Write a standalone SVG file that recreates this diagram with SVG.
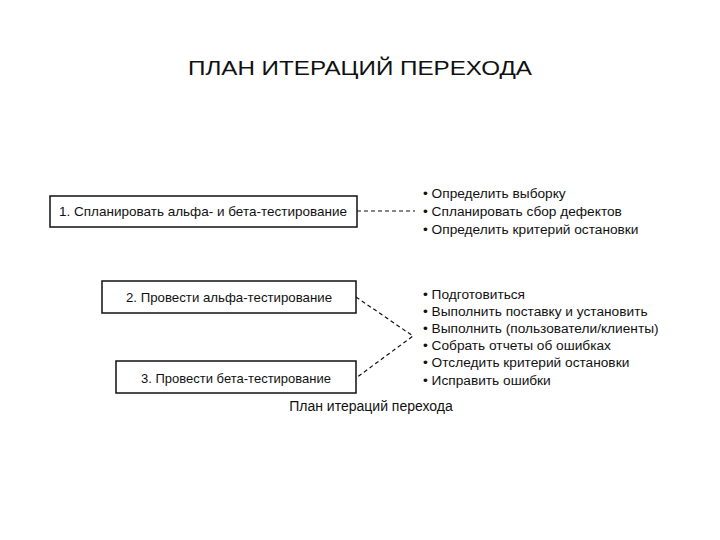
<svg xmlns="http://www.w3.org/2000/svg" width="720" height="540" viewBox="0 0 720 540">
<style>
text{font-family:"Liberation Sans",Arial,sans-serif;fill:#111}
.b{fill:#fff;stroke:#111;stroke-width:1.5}
.t{font-size:13px}
.l{font-size:13.7px}
.c{stroke:#111;stroke-width:1.2;stroke-dasharray:4,3;fill:none}
</style>
<rect width="720" height="540" fill="#fff"/>
<text x="360" y="75" text-anchor="middle" font-size="20" textLength="344" lengthAdjust="spacingAndGlyphs">ПЛАН ИТЕРАЦИЙ ПЕРЕХОДА</text>
<g id="n1"><rect class="b" x="50" y="196" width="307" height="31"/><text class="t" x="203" y="216" text-anchor="middle" textLength="288" lengthAdjust="spacingAndGlyphs">1. Спланировать альфа- и бета-тестирование</text></g>
<g id="n2"><rect class="b" x="102" y="281" width="254" height="32"/><text class="t" x="229" y="302" text-anchor="middle" textLength="206" lengthAdjust="spacingAndGlyphs">2. Провести альфа-тестирование</text></g>
<g id="n3"><rect class="b" x="116" y="361" width="240" height="32"/><text class="t" x="236" y="383" text-anchor="middle" textLength="190" lengthAdjust="spacingAndGlyphs">3. Провести бета-тестирование</text></g>
<g id="list1" class="l">
<text x="423" y="198">• Определить выборку</text>
<text x="423" y="216">• Спланировать сбор дефектов</text>
<text x="423" y="234">• Определить критерий остановки</text>
</g>
<g id="list2" class="l">
<text x="423" y="299">• Подготовиться</text>
<text x="423" y="316">• Выполнить поставку и установить</text>
<text x="423" y="333">• Выполнить (пользователи/клиенты)</text>
<text x="423" y="350">• Собрать отчеты об ошибках</text>
<text x="423" y="367">• Отследить критерий остановки</text>
<text x="423" y="385">• Исправить ошибки</text>
</g>
<g id="connectors">
<line class="c" x1="357" y1="211" x2="415" y2="211"/>
<polyline class="c" points="356,297 413,336 356,378"/>
</g>
<text x="371" y="411" text-anchor="middle" font-size="14">План итераций перехода</text>
</svg>
